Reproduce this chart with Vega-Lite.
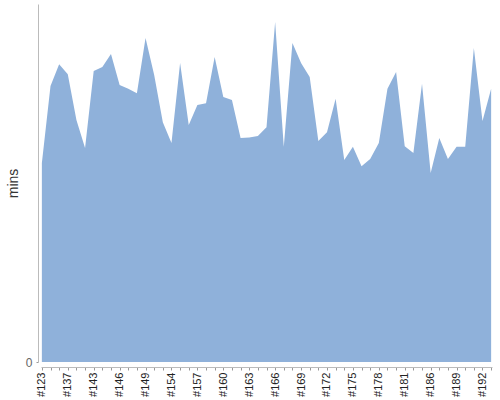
{
  "$schema": "https://vega.github.io/schema/vega-lite/v6.json",
  "width": 451,
  "height": 358,
  "autosize": {"type": "none"},
  "padding": {"left": 41, "top": 4, "right": 8, "bottom": 38},
  "config": {
    "view": {"stroke": null},
    "font": "Liberation Sans"
  },
  "data": {
    "values": [
      {"build": "#123", "mins": 55.6},
      {"build": "#129", "mins": 77.1},
      {"build": "#134", "mins": 83.2},
      {"build": "#137", "mins": 80.4},
      {"build": "#139", "mins": 67.6},
      {"build": "#141", "mins": 59.8},
      {"build": "#143", "mins": 81.3},
      {"build": "#144", "mins": 82.4},
      {"build": "#145", "mins": 86.0},
      {"build": "#146", "mins": 77.4},
      {"build": "#147", "mins": 76.3},
      {"build": "#148", "mins": 75.1},
      {"build": "#149", "mins": 90.5},
      {"build": "#151", "mins": 80.2},
      {"build": "#153", "mins": 67.0},
      {"build": "#154", "mins": 61.2},
      {"build": "#155", "mins": 83.5},
      {"build": "#156", "mins": 66.2},
      {"build": "#157", "mins": 71.8},
      {"build": "#158", "mins": 72.3},
      {"build": "#159", "mins": 85.2},
      {"build": "#160", "mins": 74.0},
      {"build": "#161", "mins": 73.2},
      {"build": "#162", "mins": 62.6},
      {"build": "#163", "mins": 62.7},
      {"build": "#164", "mins": 63.1},
      {"build": "#165", "mins": 65.6},
      {"build": "#166", "mins": 95.0},
      {"build": "#167", "mins": 60.1},
      {"build": "#168", "mins": 89.1},
      {"build": "#169", "mins": 83.5},
      {"build": "#170", "mins": 79.6},
      {"build": "#171", "mins": 61.7},
      {"build": "#172", "mins": 64.2},
      {"build": "#173", "mins": 73.5},
      {"build": "#174", "mins": 56.4},
      {"build": "#175", "mins": 60.1},
      {"build": "#176", "mins": 54.7},
      {"build": "#177", "mins": 56.7},
      {"build": "#178", "mins": 61.2},
      {"build": "#179", "mins": 76.3},
      {"build": "#180", "mins": 81.0},
      {"build": "#181", "mins": 60.3},
      {"build": "#183", "mins": 58.4},
      {"build": "#185", "mins": 77.7},
      {"build": "#186", "mins": 52.8},
      {"build": "#187", "mins": 62.6},
      {"build": "#188", "mins": 56.7},
      {"build": "#189", "mins": 60.1},
      {"build": "#190", "mins": 60.1},
      {"build": "#191", "mins": 87.7},
      {"build": "#192", "mins": 67.3},
      {"build": "#193", "mins": 76.3}
    ]
  },
  "mark": {"type": "area", "color": "#8fb1da", "opacity": 1},
  "encoding": {
    "x": {
      "field": "build",
      "type": "ordinal",
      "sort": null,
      "scale": {"type": "point", "padding": 0.1},
      "axis": {
        "title": null,
        "offset": 5,
        "labelAngle": -90,
        "labelOverlap": false,
        "labelFontSize": 11,
        "labelColor": "#222",
        "labelPadding": 2,
        "tickSize": 3,
        "tickColor": "#999",
        "domainColor": "#bbb",
        "labelExpr": "indexof(['#123','#137','#143','#146','#149','#154','#157','#160','#163','#166','#169','#172','#175','#178','#181','#186','#189','#192'], datum.value) >= 0 ? datum.value : ''"
      }
    },
    "y": {
      "field": "mins",
      "type": "quantitative",
      "scale": {"domain": [0, 100]},
      "axis": {
        "title": "mins",
        "values": [0],
        "grid": false,
        "offset": 3,
        "tickSize": 2,
        "tickColor": "#999",
        "domainColor": "#bbb",
        "labelFontSize": 12,
        "labelColor": "#666",
        "labelPadding": 4,
        "titleFontSize": 14,
        "titleFontWeight": "normal",
        "titleColor": "#333",
        "titlePadding": 5
      }
    }
  }
}
